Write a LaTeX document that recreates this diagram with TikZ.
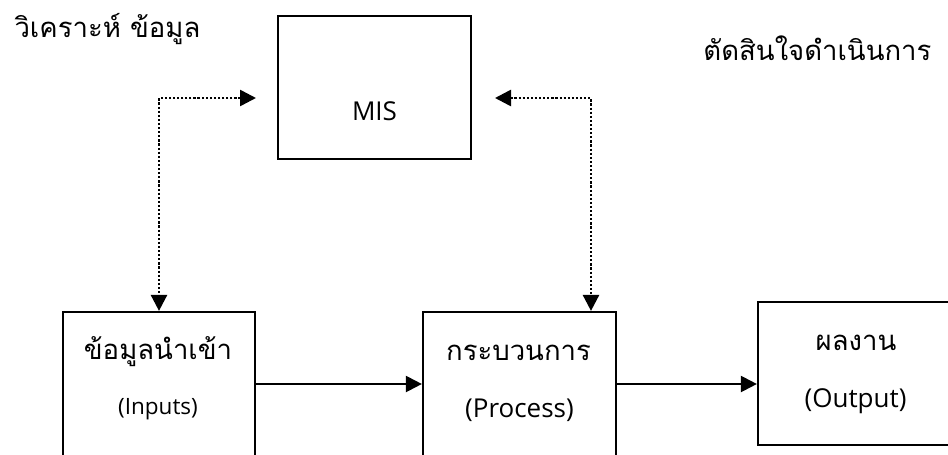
\documentclass[tikz,border=0pt]{standalone}
\usepackage{fontspec}
\setmainfont{Open Sans}
\newfontfamily\thaifont[Script=Thai]{Loma}
\usetikzlibrary{arrows.meta}
\tikzset{
  box/.style={draw, line width=2.2pt, rectangle, inner sep=0pt},
  flow/.style={line width=2.2pt, -{Triangle[length=16pt,width=16pt]}},
  link/.style={line width=2.6pt, dash pattern=on 2.2pt off 1.9pt,
    {Triangle[length=16pt,width=16pt]}-{Triangle[length=16pt,width=16pt]}},
  thlabel/.style={font=\thaifont\fontsize{27.5}{32}\selectfont, anchor=base},
  enlabel/.style={font=\fontsize{22.5}{26}\selectfont, anchor=base},
  enbig/.style={font=\fontsize{26}{30}\selectfont, anchor=base},
}
\begin{document}
\begin{tikzpicture}[x=1pt,y=-1pt]
\useasboundingbox (0,0) rectangle (948,455);
\clip (0,0) rectangle (948,455);

% boxes
\node[box, minimum width=193pt, minimum height=143pt] (mis) at (374.5,87.5) {};
\node[box, minimum width=192pt, minimum height=200pt] (inp) at (159,412) {};
\node[box, minimum width=193pt, minimum height=200pt] (proc) at (519.5,412) {};
\node[box, minimum width=220pt, minimum height=143pt] (out) at (868,373.5) {};

% box texts
\node[enbig] (mistext) at (374.5,120) {MIS};
\node[thlabel] (inth) at (158,359) {ข้อมูลนำเข้า};
\node[enlabel] (inen) at (158,414) {(Inputs)};
\node[thlabel] (procth) at (518.5,360) {กระบวนการ};
\node[enbig] (procen) at (519.5,417) {(Process)};
\node[thlabel] (outth) at (856,350) {ผลงาน};
\node[enbig] (outen) at (855.5,407) {(Output)};

% free-standing captions
\node[thlabel, anchor=base west] (analyse) at (11,37) {วิเคราะห์ ข้อมูล};
\node[thlabel, anchor=base east] (decide) at (935,60) {ตัดสินใจดำเนินการ};

% main flow
\draw[flow] (inp.east |- 0,384) -- (proc.west |- 0,384);
\draw[flow] (proc.east |- 0,384) -- (out.west |- 0,384);

% MIS links
\coordinate (misL) at (256,98);
\coordinate (misR) at (495,98);
\draw[link] (misL) -| (inp.north -| 159,0);
\draw[link] (misR) -| (proc.north -| 591,0);
\end{tikzpicture}
\end{document}
